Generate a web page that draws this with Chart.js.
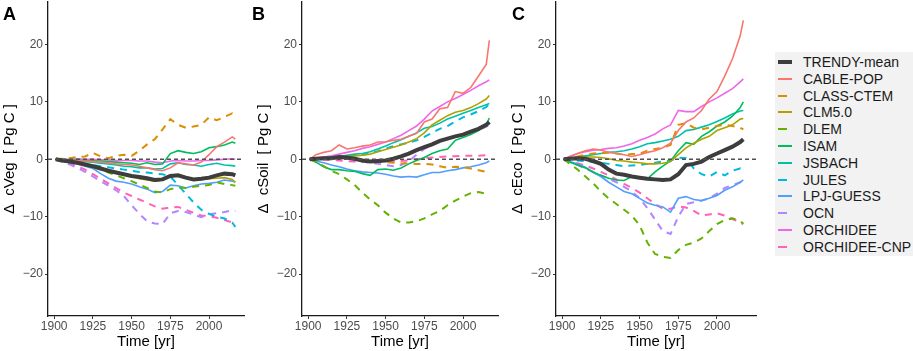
<!DOCTYPE html>
<html>
<head>
<meta charset="utf-8">
<script src="https://cdn.jsdelivr.net/npm/chart.js@4"></script>
<style>
  body { margin:0; width:913px; height:351px; background:#fff; position:relative; overflow:hidden;
         font-family:'Liberation Sans', Arial, sans-serif; }
  canvas { position:absolute; top:0; }
  .tag { position:absolute; top:5px; font:bold 18px/1 'Liberation Sans', Arial, sans-serif; color:#000; }
  #legend { position:absolute; left:775px; top:52px; width:138px; height:204px; background:#f2f2f2;
            padding-top:1.6px; box-sizing:border-box; }
  .row { height:16.8px; display:flex; align-items:center; font-size:14px; color:#1a1a1a; white-space:nowrap; }
  .key { width:28px; height:16.8px; position:relative; flex:none; }
  .key span { position:absolute; left:3px; top:50%; transform:translateY(-50%); }
</style>
</head>
<body>
<canvas id="cVeg" width="254" height="351" style="left:0px"></canvas>
<canvas id="cSoil" width="254" height="351" style="left:254px"></canvas>
<canvas id="cEco" width="258" height="351" style="left:508px"></canvas>
<div class="tag" style="left:3px">A</div>
<div class="tag" style="left:252px">B</div>
<div class="tag" style="left:512px">C</div>
<div id="legend"></div>

<script>
// ---- data (Pg C change since 1901) ----
const years  = [1901,1905,1910,1915,1920,1925,1930,1935,1940,1945,1950,1955,1960,1965,1970,1975,1980,1985,1990,1995,2000,2005,2010,2015,2017];
const xTicks = [1900, 1925, 1950, 1975, 2000];
const yTicks = [-20, -10, 0, 10, 20];

const models  = ['TRENDY-mean','CABLE-POP','CLASS-CTEM','CLM5.0','DLEM','ISAM','JSBACH','JULES','LPJ-GUESS','OCN','ORCHIDEE','ORCHIDEE-CNP'];
const colours = ['#3d3d3d','#F8766D','#DB8E00','#AEA200','#64B200','#00BD5C','#00C1A7','#00BADE','#529EFF','#B385FF','#EF67EB','#FF63B6'];
const dashed  = [false,false,true,false,true,false,false,true,false,true,false,true];

// panel A: cVeg
const vegTRENDY  = [0,-0.2,-0.4,-0.6,-0.9,-1.2,-1.6,-2.0,-2.3,-2.6,-2.9,-3.1,-3.3,-3.6,-3.5,-2.9,-2.8,-3.2,-3.5,-3.4,-3.2,-2.8,-2.5,-2.6,-2.8];
const vegCABLE   = [0,-0.1,-0.2,-0.2,-0.3,-0.4,-0.5,-0.6,-0.8,-0.9,-1.0,-1.2,-1.5,-1.8,-2.0,-1.5,-0.6,-0.8,-1.0,-0.5,0.8,2.2,3.0,3.9,3.5];
const vegCLASS   = [0,0.1,0.2,0.4,0.5,1.1,0.5,0.2,0.6,0.8,0.6,1.5,2.6,3.5,5.2,7.0,6.0,5.5,5.7,6.0,7.3,6.8,7.4,8.0,7.6];
const vegCLM     = [0,-0.2,-0.4,-0.6,-0.9,-1.2,-1.6,-2.0,-2.4,-2.7,-3.0,-3.4,-3.6,-3.8,-3.6,-2.8,-2.9,-3.3,-3.6,-3.5,-3.4,-3.3,-3.2,-3.5,-4.0];
const vegDLEM    = [0,-0.2,-0.5,-0.7,-1.0,-1.4,-1.8,-2.3,-2.8,-3.3,-3.8,-4.4,-5.0,-5.6,-5.8,-5.2,-4.9,-5.0,-4.8,-4.6,-4.5,-4.0,-4.3,-4.5,-4.6];
const vegISAM    = [0,-0.05,-0.1,-0.15,-0.2,-0.25,-0.3,-0.4,-0.5,-0.6,-0.7,-0.9,-0.6,-0.9,-0.8,1.0,1.5,1.2,1.0,1.3,2.0,2.2,2.5,3.0,2.8];
const vegJSBACH  = [0,-0.1,-0.2,-0.3,-0.4,-0.5,-0.7,-0.8,-1.0,-1.2,-1.3,-1.5,-1.5,-1.7,-1.6,-0.8,-0.6,-0.9,-1.0,-1.2,-0.9,-0.7,-1.0,-1.1,-1.2];
const vegJULES   = [0,-0.1,-0.3,-0.5,-0.8,-1.0,-1.2,-1.4,-1.6,-1.8,-2.0,-2.2,-2.3,-2.5,-2.6,-3.0,-4.5,-6.0,-7.5,-8.8,-9.5,-10.0,-10.3,-11.0,-11.8];
const vegLPJ     = [0,-0.3,-0.5,-0.8,-1.2,-1.6,-2.5,-3.3,-3.8,-4.0,-4.3,-4.8,-5.2,-5.8,-5.6,-4.5,-4.6,-5.0,-4.6,-4.3,-4.2,-4.0,-3.6,-3.8,-4.0];
const vegOCN     = [0,-0.4,-0.9,-1.5,-2.2,-3.0,-3.8,-4.6,-5.4,-6.4,-8.0,-9.5,-10.8,-11.2,-11.3,-9.4,-9.0,-9.2,-9.6,-10.1,-9.6,-9.4,-9.2,-8.9,-9.0];
const vegORC     = [0,0,0,0.1,0,0,-0.1,-0.1,-0.2,-0.2,-0.2,-0.3,-0.3,-0.5,-0.6,-0.3,-0.2,-0.3,-0.3,-0.2,-0.2,-0.1,0,0.1,0];
const vegORCCNP  = [0,-0.3,-0.7,-1.2,-1.8,-2.6,-3.4,-4.2,-5.0,-5.8,-6.4,-7.0,-7.6,-8.2,-8.6,-8.4,-8.3,-8.8,-9.3,-9.8,-9.9,-10.2,-10.6,-11.0,-11.3];

// panel B: cSoil
const soilTRENDY = [0,0.1,0.2,0.2,0.4,0.3,0.1,-0.2,-0.4,-0.3,-0.2,0.1,0.5,1.0,1.6,2.1,2.6,3.2,3.6,4.0,4.3,4.8,5.3,6.0,6.5];
const soilCABLE  = [0,0.8,1.2,1.5,2.5,1.8,2.0,2.3,2.5,3.0,3.0,3.3,3.5,4.0,4.5,6.5,7.0,8.8,9.0,11.8,11.5,12.5,14.5,16.5,20.7];
const soilCLASS  = [0,0.05,0.1,0.15,0.2,0.1,0,-0.15,-0.3,-0.4,-0.5,-0.6,-0.7,-0.75,-0.8,-0.8,-0.9,-1.2,-1.5,-1.3,-1.4,-1.6,-1.9,-2.2,-2.5];
const soilCLM    = [0,0.1,0.2,0.3,0.4,0.5,0.6,0.7,0.9,1.3,1.7,2.1,2.5,3.0,3.6,4.6,6.0,6.8,7.6,8.2,8.5,9.0,9.7,10.5,11.1];
const soilDLEM   = [0,-0.4,-1.2,-2.0,-2.6,-3.5,-4.5,-5.8,-7.0,-8.0,-9.3,-10.3,-11.0,-11.0,-10.8,-10.3,-9.6,-9.0,-8.0,-7.2,-6.5,-5.9,-5.7,-6.0,-6.0];
const soilISAM   = [0,-0.5,-1.3,-1.8,-1.8,-2.0,-2.1,-2.5,-2.8,-1.8,-1.7,-1.9,-1.5,-0.8,-0.2,0.3,1.0,1.5,1.8,3.3,3.8,4.3,5.0,6.0,7.2];
const soilJSBACH = [0,0.1,0.2,0.4,0.5,0.7,0.9,1.0,1.3,1.8,2.3,2.9,3.4,4.0,4.6,5.4,5.7,6.3,7.0,7.5,8.0,8.5,9.0,9.5,9.7];
const soilJULES  = [0,0.1,0.2,0.3,0.5,0.6,0.7,0.8,1.0,1.4,1.9,2.3,2.6,2.9,3.3,3.9,4.6,5.3,5.8,6.6,7.3,7.8,8.4,9.1,9.6];
const soilLPJ    = [0,-0.3,-0.6,-1.0,-1.3,-1.7,-2.0,-2.2,-2.3,-2.4,-2.6,-2.9,-3.1,-3.0,-3.1,-2.7,-2.3,-2.3,-2.0,-1.8,-1.5,-1.3,-1.0,-0.6,-0.3];
const soilOCN    = [0,0.1,0.2,0.3,0.4,0.2,-0.2,-0.4,-0.6,-0.8,-1.0,-1.2,-1.0,-0.3,0.8,1.8,2.6,3.2,3.6,3.9,4.2,4.6,5.1,5.7,6.0];
const soilORC    = [0,0.2,0.4,0.6,0.9,1.2,1.5,1.9,2.2,2.6,3.0,3.6,4.2,5.0,5.8,7.0,8.4,9.2,10.0,10.6,11.3,12.0,12.8,13.5,13.8];
const soilORCCNP = [0,-0.05,-0.1,-0.15,-0.2,-0.3,-0.4,-0.45,-0.5,-0.5,-0.5,-0.4,-0.3,-0.2,0,0.2,0.3,0.4,0.5,0.55,0.6,0.6,0.6,0.7,0.7];

// panel C: cEco
const ecoTRENDY  = [0,0.1,0.2,0.1,-0.3,-0.8,-1.8,-2.5,-2.7,-3.0,-3.2,-3.4,-3.5,-3.6,-3.5,-2.6,-1.0,-0.8,-0.4,0.4,1.0,1.6,2.2,3.0,3.5];
const ecoCABLE   = [0,0.5,1.0,1.5,1.8,1.6,1.2,1.0,0.8,0.5,0.8,1.2,1.5,2.0,2.8,5.0,6.5,7.2,8.5,10.5,11.8,14.5,17.5,21.5,24.2];
const ecoCLASS   = [0,0.2,0.5,0.8,1.0,1.1,1.2,1.0,0.8,0.9,1.0,1.5,1.8,2.0,2.5,6.0,6.3,5.5,5.2,5.5,5.8,6.0,5.8,5.5,5.2];
const ecoCLM     = [0,0.2,0.3,0.4,0.4,0.3,0.1,-0.2,-0.3,-0.5,-0.6,-0.8,-0.8,-0.7,-0.4,0.8,2.0,2.8,3.5,4.0,5.0,5.5,6.0,7.0,7.1];
const ecoDLEM    = [0,-0.8,-1.8,-3.0,-4.2,-5.6,-6.8,-7.8,-8.8,-9.8,-11.5,-14.5,-16.5,-17.0,-17.2,-15.8,-14.9,-14.5,-13.8,-12.5,-11.3,-10.6,-10.3,-10.8,-11.2];
const ecoISAM    = [0,-0.5,-1.0,-1.5,-2.2,-2.8,-3.3,-3.6,-3.7,-3.0,-3.2,-3.4,-2.2,-1.2,-0.3,1.5,2.9,2.6,4.0,4.8,5.8,6.5,7.5,9.0,10.0];
const ecoJSBACH  = [0,0.2,0.4,0.6,0.8,1.0,1.2,1.3,1.5,1.8,2.2,2.7,2.9,3.2,3.5,4.0,5.0,5.2,5.6,6.0,6.6,7.2,7.9,8.4,8.5];
const ecoJULES   = [0,-0.1,-0.2,-0.3,-0.5,-0.6,-0.8,-1.0,-1.2,-1.1,-1.0,-0.8,-0.6,-0.4,-0.2,0.3,0.2,-1.6,-2.6,-3.0,-2.2,-2.8,-2.0,-1.6,-2.2];
const ecoLPJ     = [0,-0.4,-0.8,-1.4,-2.3,-3.0,-4.0,-4.8,-5.6,-6.0,-6.8,-7.6,-8.0,-8.3,-9.2,-6.8,-6.5,-7.0,-7.2,-6.8,-6.3,-5.4,-4.8,-4.0,-3.6];
const ecoOCN     = [0,-0.5,-1.0,-1.6,-2.2,-2.8,-3.4,-4.0,-4.8,-5.6,-6.8,-8.5,-10.5,-12.5,-13.0,-10.0,-7.8,-7.5,-7.2,-6.8,-6.0,-5.0,-4.5,-4.0,-3.8];
const ecoORC     = [0,0.5,1.0,1.3,1.6,1.7,1.9,2.0,2.3,2.7,3.3,3.8,4.4,5.3,6.0,8.5,8.3,8.3,9.2,10.0,10.7,11.5,12.3,13.5,14.0];
const ecoORCCNP  = [0,-0.3,-0.7,-1.1,-1.6,-2.2,-2.8,-3.5,-4.3,-5.0,-5.8,-6.8,-7.8,-8.6,-8.6,-8.2,-8.4,-9.0,-9.8,-9.6,-9.4,-9.8,-10.4,-11.0,-11.3];

// same order as models[]
const vegRows  = [vegTRENDY, vegCABLE, vegCLASS, vegCLM, vegDLEM, vegISAM, vegJSBACH, vegJULES, vegLPJ, vegOCN, vegORC, vegORCCNP];
const soilRows = [soilTRENDY, soilCABLE, soilCLASS, soilCLM, soilDLEM, soilISAM, soilJSBACH, soilJULES, soilLPJ, soilOCN, soilORC, soilORCCNP];
const ecoRows  = [ecoTRENDY, ecoCABLE, ecoCLASS, ecoCLM, ecoDLEM, ecoISAM, ecoJSBACH, ecoJULES, ecoLPJ, ecoOCN, ecoORC, ecoORCCNP];

const FONT = "'Liberation Sans', Arial, sans-serif";

// dashed zero reference line, drawn over the model lines
const zeroLine = {
  id: 'zeroLine',
  afterDatasetsDraw(chart) {
    const { ctx, chartArea, scales } = chart;
    const y = scales.y.getPixelForValue(0);
    ctx.save();
    ctx.strokeStyle = '#505050';
    ctx.lineWidth = 1.5;
    ctx.setLineDash([4, 3]);
    ctx.beginPath();
    ctx.moveTo(chartArea.left, y);
    ctx.lineTo(chartArea.right, y);
    ctx.stroke();
    ctx.restore();
  }
};

function datasetsFor(rows) {
  return rows.map((vals, i) => ({
    label: models[i],
    data: years.map((yr, k) => ({ x: yr, y: vals[k] })),
    borderColor: colours[i],
    borderWidth: i === 0 ? 4 : (dashed[i] ? 2 : 1.6),
    borderDash: dashed[i] ? [7, 6] : [],
    borderCapStyle: 'butt',
    pointRadius: 0,
    tension: 0
  }));
}

// xMax: right end of the time axis (panel C is a touch wider)
function drawPanel(canvasId, rows, yTitle, xMax) {
  const axisGrid = { drawOnChartArea: false, drawTicks: true, tickLength: 3, color: '#333', lineWidth: 1 };
  const axisBorder = { display: true, color: '#1a1a1a', width: 1.3 };
  new Chart(document.getElementById(canvasId), {
    type: 'line',
    data: { datasets: datasetsFor(rows) },
    plugins: [zeroLine],
    options: {
      responsive: false,
      animation: false,
      devicePixelRatio: 1,
      layout: { padding: { left: 0, right: 10, top: 2, bottom: 0 } },
      plugins: { legend: { display: false }, tooltip: { enabled: false } },
      scales: {
        x: {
          type: 'linear', min: 1896, max: xMax,
          afterBuildTicks: s => { s.ticks = xTicks.map(v => ({ value: v })); },
          afterFit: s => { s.height = 35; s.paddingLeft = 0; s.paddingRight = 0; },
          ticks: { color: '#4d4d4d', font: { family: FONT, size: 12 }, padding: 0, maxRotation: 0,
                   callback: v => String(v) },
          grid: axisGrid, border: axisBorder,
          title: { display: true, text: 'Time [yr]', color: '#000', font: { family: FONT, size: 15 },
                   padding: { top: 0, bottom: 0 } }
        },
        y: {
          min: -27.3, max: 27.4,
          afterBuildTicks: s => { s.ticks = yTicks.map(v => ({ value: v })); },
          afterFit: s => { s.width = 48; s.paddingTop = 0; s.paddingBottom = 0; },
          ticks: { color: '#4d4d4d', font: { family: FONT, size: 12 }, padding: 2,
                   callback: v => (v < 0 ? '\u2212' + Math.abs(v) : String(v)) },
          grid: axisGrid, border: axisBorder,
          title: { display: true, text: yTitle, color: '#000', font: { family: FONT, size: 15 },
                   padding: { top: 1, bottom: 0 } }
        }
      }
    }
  });
}

drawPanel('cVeg', vegRows, 'Δ  cVeg  [ Pg C ]', 2022.6);
drawPanel('cSoil', soilRows, 'Δ  cSoil  [ Pg C ]', 2022.6);
drawPanel('cEco', ecoRows, 'Δ  cEco  [ Pg C ]', 2025.2);

// legend: grey box with a line key per model
document.getElementById('legend').innerHTML = models.map((name, i) => {
  const w = dashed[i] ? 9 : 14;
  const h = i === 0 ? 4 : 2;
  return `<div class="row"><div class="key"><span style="width:${w}px;height:${h}px;background:${colours[i]}"></span></div>${name}</div>`;
}).join('');
</script>
</body>
</html>
